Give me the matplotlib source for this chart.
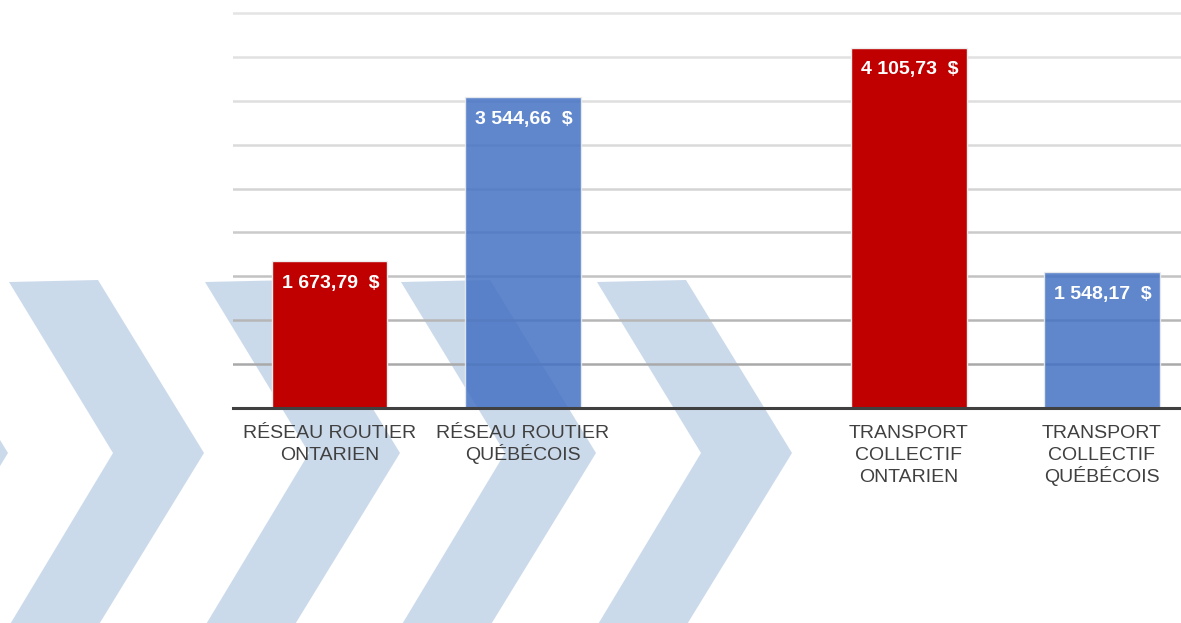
import matplotlib
matplotlib.use("Agg")
import matplotlib.pyplot as plt
from matplotlib.patches import Polygon

plt.rcParams['font.family'] = ['Liberation Sans', 'DejaVu Sans']

# ---- data ----
categories = ["RÉSEAU ROUTIER\nONTARIEN", "RÉSEAU ROUTIER\nQUÉBÉCOIS", "",
              "TRANSPORT\nCOLLECTIF\nONTARIEN", "TRANSPORT\nCOLLECTIF\nQUÉBÉCOIS"]
values = [1673.79, 3544.66, None, 4105.73, 1548.17]
series_kind = ["ont", "qc", None, "ont", "qc"]
gridlevels = [500, 1000, 1500, 2000, 2500, 3000, 3500, 4000, 4500]

# ---- styling ----
W, H, DPI = 1181, 623, 100
fig = plt.figure(figsize=(W / DPI, H / DPI), dpi=DPI)

# decorative background chevrons (pixel space)
bg = fig.add_axes([0, 0, 1, 1], zorder=0)
bg.set_xlim(0, W)
bg.set_ylim(H, 0)
bg.axis("off")
chev = [(0, 282), (89, 280), (195, 453), (89, 626), (0, 626), (104, 453)]
for k in range(5):
    x0 = -187 + 196 * k
    bg.add_patch(Polygon([(x0 + x, y) for x, y in chev], closed=True,
                         facecolor="#cbdaeb", edgecolor="none"))

left = 233 / W
bottom = (H - 408) / H
ax = fig.add_axes([left, bottom, 1 - left, 1 - bottom], zorder=1)
ax.set_facecolor("none")

px_per_unit = (408 - 13) / 4500
ax.set_ylim(0, 408 / px_per_unit)
ax.set_xlim(-0.5, 4.41)

grid_colors = ["#a9a9a9", "#b6b6b6", "#c2c2c2", "#cbcbcb", "#d4d4d4",
               "#dadada", "#dedede", "#e1e1e1", "#e4e4e4"]
for lvl, c in zip(gridlevels, grid_colors):
    ax.axhline(lvl, color=c, lw=1.8, zorder=1)

colors = {"ont": ("#c00000", 1.0), "qc": ("#4472c4", 0.85)}
for i, (v, kind) in enumerate(zip(values, series_kind)):
    if v is None:
        continue
    col, a = colors[kind]
    ax.bar(i, v, width=0.6, color=col, alpha=a, edgecolor="#eeeeee",
           linewidth=1, zorder=2)
    label = f"{v:,.2f}".replace(",", " ").replace(".", ",") + "  $"
    ax.annotate(label, (i, v), xytext=(1, -16), textcoords="offset points",
                ha="center", va="center", color="white", fontsize=14,
                fontweight="bold", zorder=3)

for s in ["top", "right", "left"]:
    ax.spines[s].set_visible(False)
ax.spines["bottom"].set_color("#404040")
ax.spines["bottom"].set_linewidth(2.2)
ax.spines["bottom"].set_zorder(4)

ax.set_yticks([])
ax.set_xticks([])
# category labels, one line at a time for even line spacing
for i, cat in enumerate(categories):
    if not cat:
        continue
    for j, line in enumerate(cat.split("\n")):
        ax.annotate(line, (i, 0), xycoords=("data", "axes fraction"),
                    xytext=(0, -(21.8 + 15.8 * j)), textcoords="offset points",
                    ha="center", va="baseline", fontsize=14, color="#404040",
                    annotation_clip=False)

fig.savefig("out.png", dpi=DPI)
